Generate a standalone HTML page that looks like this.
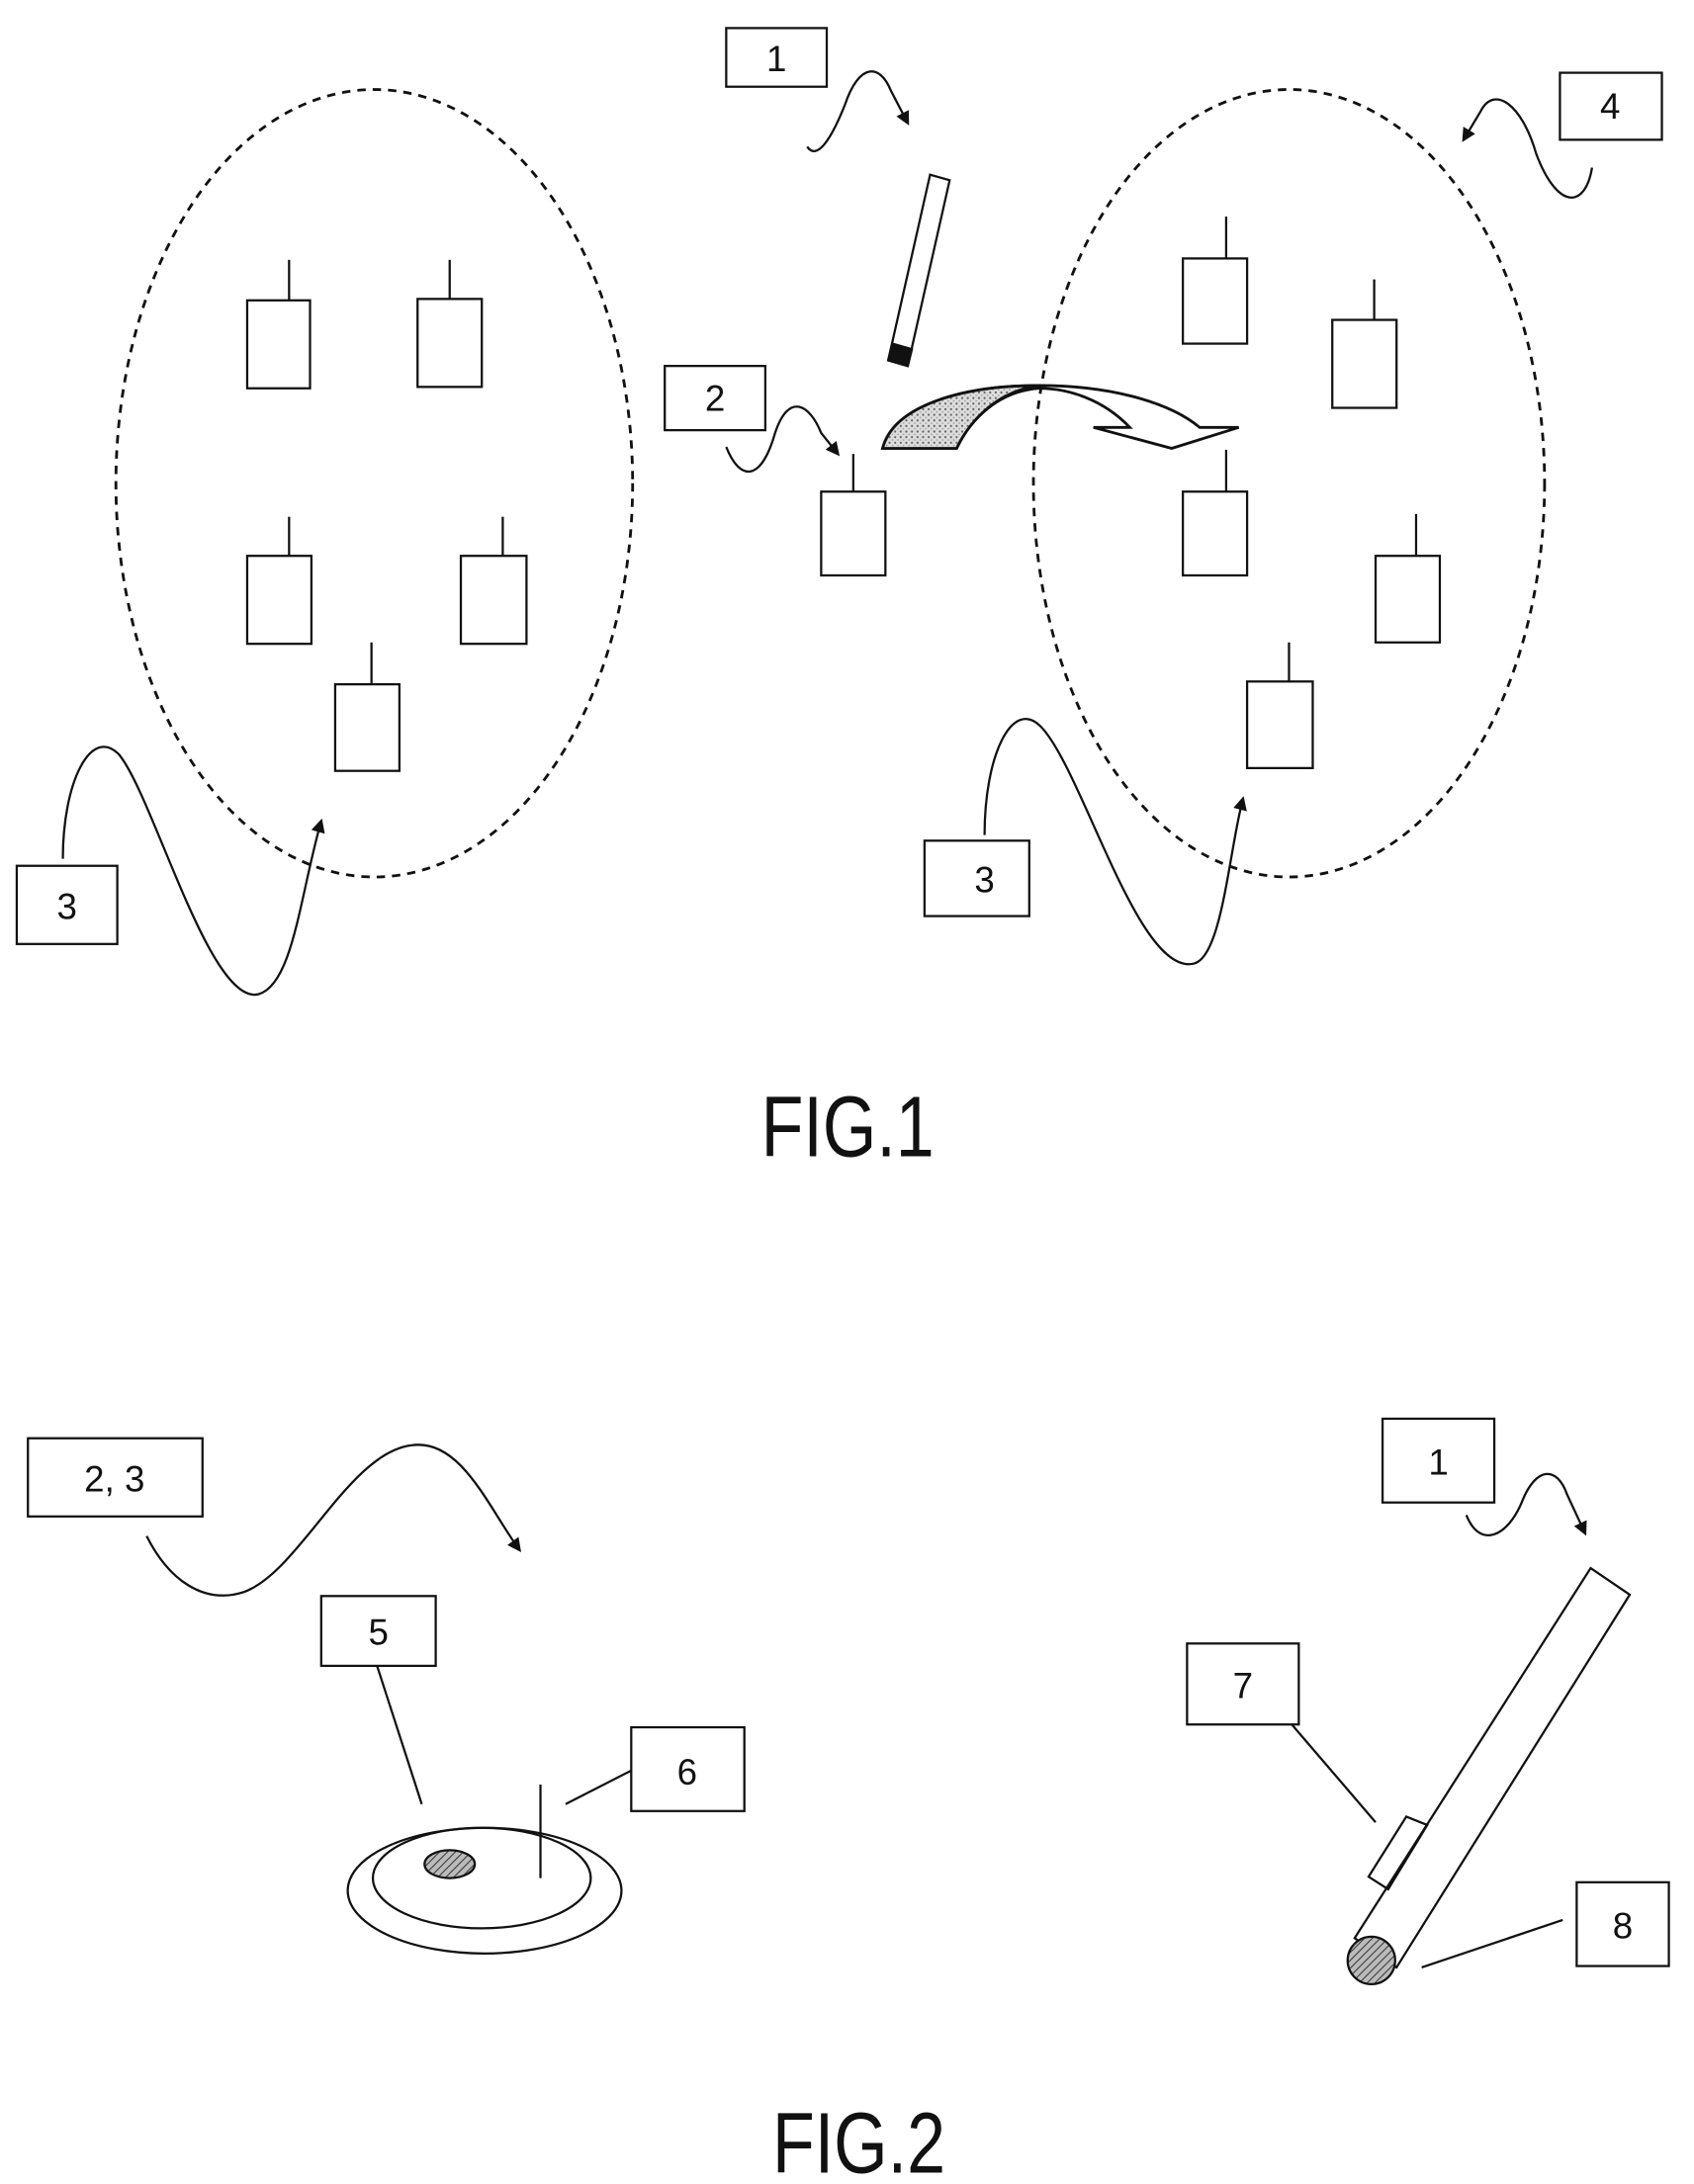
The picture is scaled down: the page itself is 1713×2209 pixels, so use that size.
<!DOCTYPE html>
<html><head><meta charset="utf-8"><style>
html,body{margin:0;padding:0;background:#fff;}
svg{display:block;}
text{font-family:"Liberation Sans",sans-serif;fill:#111;}
</style></head><body>
<svg width="1713" height="2209" viewBox="0 0 1213 1564" xmlns="http://www.w3.org/2000/svg">
<defs>
<marker id="ah" markerWidth="10" markerHeight="10" refX="8" refY="5" orient="auto" markerUnits="userSpaceOnUse">
<path d="M0,0 L10,5 L0,10 Z" fill="#111"/></marker>
<pattern id="hatch" width="4" height="4" patternUnits="userSpaceOnUse" patternTransform="rotate(45)">
<rect width="4" height="4" fill="#bbb"/><line x1="0" y1="0" x2="0" y2="4" stroke="#333" stroke-width="1.5"/></pattern>
<pattern id="dots" width="4" height="4" patternUnits="userSpaceOnUse">
<rect width="4" height="4" fill="#ddd"/><circle cx="1" cy="1" r="0.8" fill="#666"/><circle cx="3" cy="3" r="0.6" fill="#999"/></pattern>
</defs>
<g fill="none" stroke="#111" stroke-width="1.6">
<!-- FIG 1 -->
<ellipse cx="268" cy="346" rx="185" ry="282" stroke-dasharray="6,5" stroke-width="2"/>
<ellipse cx="923" cy="346" rx="183" ry="282" stroke-dasharray="6,5" stroke-width="2"/>
<rect x="177" y="215" width="45" height="63"/><line x1="207" y1="215" x2="207" y2="186"/>
<rect x="299" y="214" width="46" height="63"/><line x1="322" y1="214" x2="322" y2="186"/>
<rect x="177" y="398" width="46" height="63"/><line x1="207" y1="398" x2="207" y2="370"/>
<rect x="330" y="398" width="47" height="63"/><line x1="360" y1="398" x2="360" y2="370"/>
<rect x="240" y="490" width="46" height="62"/><line x1="266" y1="490" x2="266" y2="460"/>
<rect x="847" y="185" width="46" height="61"/><line x1="878" y1="185" x2="878" y2="155"/>
<rect x="954" y="229" width="46" height="63"/><line x1="984" y1="229" x2="984" y2="200"/>
<rect x="847" y="352" width="46" height="60"/><line x1="878" y1="352" x2="878" y2="322"/>
<rect x="985" y="398" width="46" height="62"/><line x1="1014" y1="398" x2="1014" y2="368"/>
<rect x="893" y="488" width="47" height="62"/><line x1="923" y1="488" x2="923" y2="460"/>
<rect x="588" y="352" width="46" height="60"/><line x1="611" y1="352" x2="611" y2="325"/>
<polygon points="666,125 680,129 650,262 636,258"/>
<polygon points="639,246 653,250 650,262 636,258" fill="#111"/>
<rect x="520" y="20" width="72" height="42"/>
<rect x="476" y="262" width="72" height="46"/>
<rect x="12" y="620" width="72" height="56"/>
<rect x="662" y="602" width="75" height="54"/>
<rect x="1117" y="52" width="73" height="48"/>
<path d="M578,105 C585,115 595,100 605,75 C615,45 630,45 638,65 L650,88" marker-end="url(#ah)"/>
<path d="M520,320 C530,345 545,345 555,310 C565,280 580,290 588,310 L600,325" marker-end="url(#ah)"/>
<path d="M45,615 C45,560 65,520 85,540 C110,570 150,720 185,712 C210,705 215,640 230,588" marker-end="url(#ah)"/>
<path d="M705,598 C705,540 725,500 745,520 C775,550 815,700 855,690 C875,685 880,610 890,572" marker-end="url(#ah)"/>
<path d="M1140,120 C1135,150 1115,150 1100,110 C1090,75 1070,60 1060,80 L1048,100" marker-end="url(#ah)"/>
<!-- curved arrow -->
<path d="M632,321 C640,290 690,276 744,276 C800,276 840,290 859,306 L887,306 L839,321 L783,306 L809,306 C790,286 765,278 744,278 C715,280 695,300 685,321 Z" fill="#fff" stroke-width="2"/>
<path d="M632,321 C640,290 690,276 744,276 C715,280 695,300 685,321 Z" fill="url(#dots)" stroke-width="2"/>
<!-- FIG 2 -->
<rect x="20" y="1030" width="125" height="56"/>
<rect x="230" y="1143" width="82" height="50"/>
<rect x="452" y="1237" width="81" height="60"/>
<rect x="990" y="1016" width="80" height="60"/>
<rect x="850" y="1177" width="80" height="58"/>
<rect x="1129" y="1348" width="66" height="60"/>
<path d="M105,1100 C120,1130 145,1150 175,1140 C215,1125 250,1040 295,1035 C330,1030 350,1080 372,1110" marker-end="url(#ah)"/>
<path d="M1050,1085 C1060,1110 1080,1100 1090,1075 C1100,1050 1115,1050 1122,1070 L1135,1098" marker-end="url(#ah)"/>
<line x1="270" y1="1193" x2="302" y2="1292"/>
<line x1="452" y1="1268" x2="405" y2="1292"/>
<ellipse cx="347" cy="1354" rx="98" ry="45"/>
<ellipse cx="345" cy="1345" rx="78" ry="36"/>
<ellipse cx="322" cy="1335" rx="18" ry="10" fill="url(#hatch)"/>
<line x1="387" y1="1278" x2="387" y2="1345"/>
<line x1="925" y1="1235" x2="985" y2="1305"/>
<line x1="1119" y1="1375" x2="1018" y2="1409"/>
<polygon points="1139,1123 1167,1142 1000,1409 970,1388"/>
<polygon points="1007,1301 1022,1307 994,1353 980,1344"/>
<circle cx="982" cy="1404" r="17" fill="url(#hatch)"/>
</g>
<g font-size="26" text-anchor="middle">
<text x="556" y="51">1</text>
<text x="512" y="294">2</text>
<text x="48" y="658">3</text>
<text x="705" y="639">3</text>
<text x="1153" y="85">4</text>
<text x="82" y="1068">2, 3</text>
<text x="271" y="1178">5</text>
<text x="492" y="1278">6</text>
<text x="1030" y="1056">1</text>
<text x="890" y="1216">7</text>
<text x="1162" y="1388">8</text>
</g>
<g font-size="62" text-anchor="middle">
<text x="607" y="828" transform="translate(607,0) scale(0.8,1) translate(-607,0)">FIG.1</text>
<text x="615" y="1556" transform="translate(615,0) scale(0.8,1) translate(-615,0)">FIG.2</text>
</g>
</svg>
</body></html>
